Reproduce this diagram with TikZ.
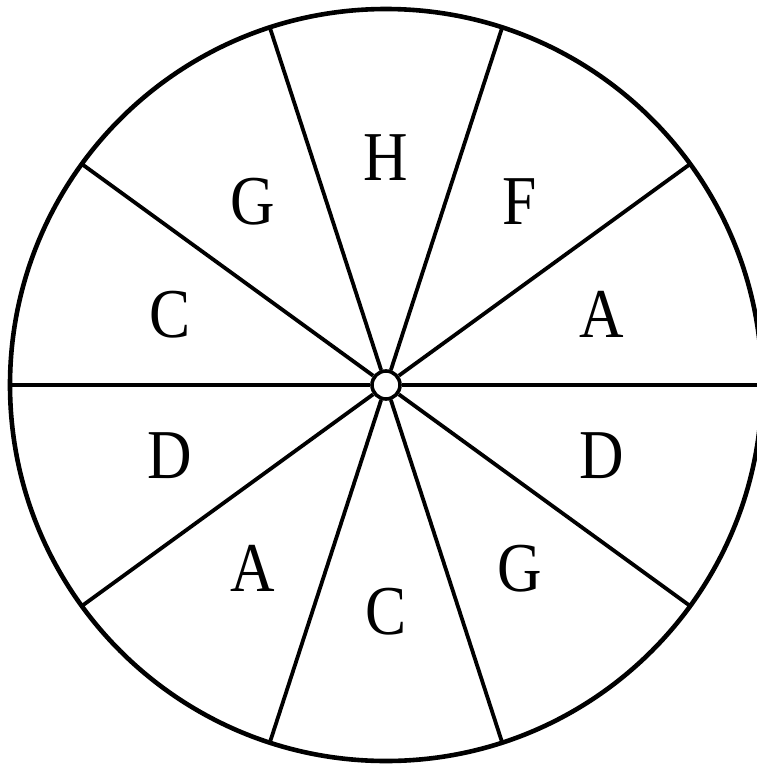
\documentclass[tikz,border=0pt]{standalone}
\usepackage{fontspec}
\setmainfont{Liberation Serif}
\usetikzlibrary{calc}
\begin{document}
\begin{tikzpicture}[x=1pt,y=-1pt,
  spoke/.style={line width=3.8pt,black},
  rim/.style={line width=4.6pt,black},
  lab/.style={inner sep=0pt,xscale=0.88,font=\fontsize{70}{70}\selectfont}]
\useasboundingbox (0,0) rectangle (757,764);
\clip (0,0) rectangle (757,764);
\coordinate (O) at (386,385);
\node[circle,minimum size=28pt,inner sep=0pt,line width=3.6pt,draw,fill=white] (hub) at (O) {};
\foreach \a/\n in {0/e,36/a,72/b,108/c,144/d,180/w,216/f,252/g,288/h,324/i}{
  \coordinate (p\n) at ($(O)+(\a:375pt)$);
}
\foreach \n in {e,a,b,c,d,w,f,g,h,i}{
  \draw[spoke] (hub) -- (p\n);
}
\draw[rim] (O) circle[radius=376pt];
\node[lab] (l1) at ($(O)+(90:227pt)$) {H};
\node[lab] (l2) at ($(O)+(54:227pt)$) {F};
\node[lab] (l3) at ($(O)+(18:227pt)$) {A};
\node[lab] (l4) at ($(O)+(-18:227pt)$) {D};
\node[lab] (l5) at ($(O)+(-54:227pt)$) {G};
\node[lab] (l6) at ($(O)+(-90:227pt)$) {C};
\node[lab] (l7) at ($(O)+(-126:227pt)$) {A};
\node[lab] (l8) at ($(O)+(-162:227pt)$) {D};
\node[lab] (l9) at ($(O)+(162:227pt)$) {C};
\node[lab] (l10) at ($(O)+(126:227pt)$) {G};
\end{tikzpicture}
\end{document}
